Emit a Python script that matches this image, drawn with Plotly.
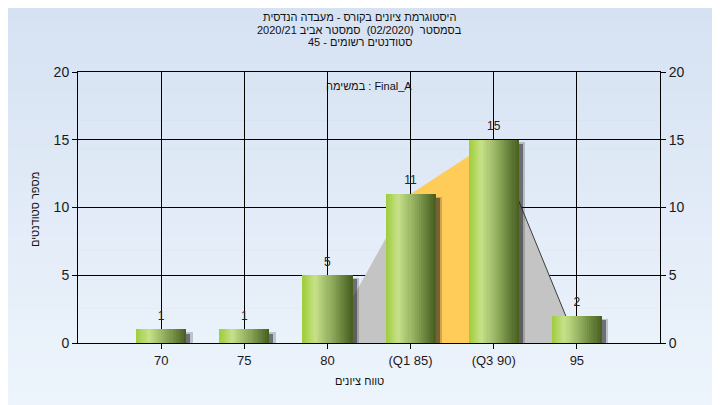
import plotly.graph_objects as go

# ---- data ----
categories = ["70", "75", "80", "(Q1 85)", "(Q3 90)", "95"]
counts = [1, 1, 5, 11, 15, 2]
curve_grey_left_x = [2, 3]
curve_grey_left_y = [0, 11]
curve_orange_x = [3, 4]
curve_orange_y = [11, 15]
curve_grey_right_x = [4, 5]
curve_grey_right_y = [15, 0]
y_ticks = [0, 5, 10, 15, 20]
title_lines = ["היסטוגרמת ציונים בקורס - מעבדה הנדסית",
               "בסמסטר  (02/2020)  סמסטר אביב 2020/21",
               "סטודנטים רשומים - 45"]
task_label = "במשימה : Final_A"
x_title = "טווח ציונים"
y_title = "מספר סטודנטים"

FONT = "Liberation Sans, Arial, DejaVu Sans, sans-serif"
xs = list(range(len(categories)))

fig = go.Figure()

# background curve fills (base axis y)
fig.add_trace(go.Scatter(x=curve_grey_left_x, y=curve_grey_left_y, mode="lines",
                         line=dict(width=0, color="#c4c4c4"), fill="tozeroy",
                         fillcolor="#c4c4c4", hoverinfo="skip", showlegend=False))
fig.add_trace(go.Scatter(x=curve_orange_x, y=curve_orange_y, mode="lines",
                         line=dict(width=0, color="#ffcc5a"), fill="tozeroy",
                         fillcolor="#ffcc5a", hoverinfo="skip", showlegend=False))
fig.add_trace(go.Scatter(x=curve_grey_right_x, y=curve_grey_right_y, mode="lines",
                         line=dict(width=1, color="#3c3c3c"), fill="tozeroy",
                         fillcolor="#c4c4c4", hoverinfo="skip", showlegend=False))

BW = 0.6
# shadows (overlay axis y2, drawn above fills)
fig.add_trace(go.Bar(x=xs, y=[c - 0.2 for c in counts], base=0, width=BW, offset=-BW/2 + 0.08,
                     marker=dict(color="rgba(30,30,30,0.22)", line=dict(width=0)), yaxis="y2",
                     hoverinfo="skip", showlegend=False))
fig.add_trace(go.Bar(x=xs, y=[c - 0.3 for c in counts], base=0, width=BW, offset=-BW/2 + 0.05,
                     marker=dict(color="rgba(30,30,30,0.5)", line=dict(width=0)), yaxis="y2",
                     hoverinfo="skip", showlegend=False))

# gradient bars built from slices
stops = [(0.0, (158, 204, 58)), (0.25, (200, 226, 138)), (0.6, (140, 168, 90)), (1.0, (70, 94, 30))]

def grad(t):
    for (t0, c0), (t1, c1) in zip(stops[:-1], stops[1:]):
        if t0 <= t <= t1:
            f = (t - t0) / (t1 - t0)
            return "rgb(%d,%d,%d)" % tuple(round(a + (b - a) * f) for a, b in zip(c0, c1))
    return "rgb(%d,%d,%d)" % stops[-1][1]

N = 24
sw = BW / N
for k in range(N):
    fig.add_trace(go.Bar(x=xs, y=counts, width=sw * 1.08, offset=-BW/2 + k * sw,
                         marker=dict(color=grad((k + 0.5) / N), line=dict(width=0)), yaxis="y2",
                         hoverinfo="skip", showlegend=False))

# value labels (on right axis y3); invisible markers push the text upward
fig.add_trace(go.Scatter(x=xs, y=counts, mode="markers+text", text=[str(c) for c in counts],
                         marker=dict(size=9, opacity=0),
                         textposition="top center", textfont=dict(size=12, color="#222222", family=FONT),
                         yaxis="y3", hoverinfo="skip", showlegend=False, cliponaxis=False))

# background gradient strips
shapes = []
n = 30
top = (213, 225, 242)
bot = (238, 245, 252)
for i in range(n):
    f = i / (n - 1)
    col = "rgb(%d,%d,%d)" % tuple(round(a + (b - a) * f) for a, b in zip(top, bot))
    shapes.append(dict(type="rect", xref="paper", yref="paper", layer="below",
                       x0=-0.3, x1=1.3, y0=1.3 - (i + 1) * (1.6 / n), y1=1.3 - i * (1.6 / n) + 0.002,
                       fillcolor=col, line=dict(width=0)))

axis_font = dict(family=FONT, size=14, color="#1a1a1a")
txt_font = dict(family=FONT, size=11, color="#111111")
cx = 0.4845
annotations = [
    dict(text=title_lines[0], xref="paper", yref="paper", x=cx, y=(335 - 9) / 271, xanchor="center",
         yanchor="middle", showarrow=False, font=txt_font),
    dict(text=title_lines[1], xref="paper", yref="paper", x=cx, y=(335 - 21.5) / 271, xanchor="center",
         yanchor="middle", showarrow=False, font=txt_font),
    dict(text=title_lines[2], xref="paper", yref="paper", x=cx, y=(335 - 34) / 271, xanchor="center",
         yanchor="middle", showarrow=False, font=txt_font),
    dict(text=task_label, xref="paper", yref="paper", x=(361 - 70) / 582, y=(335 - 78) / 271,
         xanchor="center", yanchor="middle", showarrow=False, font=txt_font),
    dict(text=x_title, xref="paper", yref="paper", x=cx, y=(335 - 373) / 271, xanchor="center",
         yanchor="middle", showarrow=False, font=txt_font),
    dict(text=y_title, xref="paper", yref="paper", x=(27 - 70) / 582, y=(335 - 202) / 271,
         xanchor="center", yanchor="middle", showarrow=False, font=txt_font, textangle=-90),
]

fig.update_layout(
    width=720, height=405,
    margin=dict(l=70, r=68, t=64, b=70, autoexpand=False),
    paper_bgcolor="#e2ecf8", plot_bgcolor="#b4b4b4",
    barmode="overlay", bargap=0,
    shapes=shapes,
    annotations=annotations,
    xaxis=dict(range=[-1, 6], tickvals=xs, ticktext=categories, showgrid=True, gridcolor="black",
               gridwidth=1, showline=True, linecolor="black", linewidth=1, mirror=True,
               ticks="outside", ticklen=5, tickcolor="black", zeroline=False,
               tickfont=dict(family=FONT, size=13, color="#1a1a1a")),
    yaxis=dict(range=[0, 20], tickvals=y_ticks, showgrid=True, gridcolor="black", gridwidth=1,
               showline=True, linecolor="black", linewidth=1, mirror=True, zeroline=False,
               ticks="outside", ticklen=5, tickcolor="black", tickfont=axis_font),
    yaxis2=dict(range=[0, 20], overlaying="y", showgrid=False, zeroline=False, showticklabels=False,
                showline=False, ticks=""),
    yaxis3=dict(range=[0, 20], tickvals=y_ticks, overlaying="y", side="right", showgrid=False,
                zeroline=False, ticks="outside", ticklen=5, tickcolor="black", tickfont=axis_font,
                showline=False),
)

fig.write_html("out.html")
